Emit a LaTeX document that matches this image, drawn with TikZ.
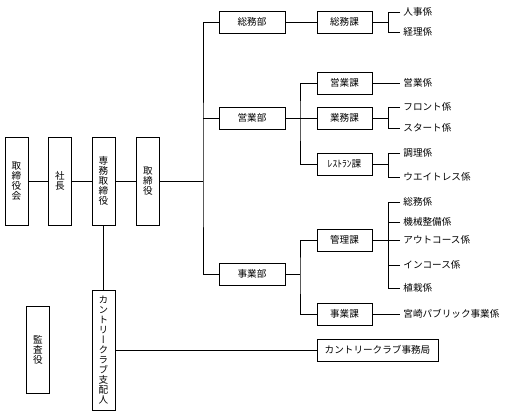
\documentclass[tikz,border=0pt]{standalone}
\usepackage{fontspec}
\setmainfont{Noto Sans CJK JP}
\newfontfamily\tate[RawFeature=+vert]{Noto Sans CJK JP}

\begin{document}
\begin{tikzpicture}[x=1pt,y=-1pt,line width=.8pt,
  box/.style={draw, minimum width=66pt, minimum height=22pt, inner sep=0pt,
    font=\fontsize{9.6}{10}\selectfont},
  kabox/.style={box, minimum width=55pt},
  tbox/.style={draw, minimum width=23pt, inner sep=0pt, align=center,
    font=\tate\fontsize{9.6}{10}\selectfont},
  leaf/.style={anchor=west, inner xsep=3pt, inner ysep=0pt,
    font=\fontsize{9.6}{10}\selectfont}]
\useasboundingbox (0,0) rectangle (511,416);

% board and officers
\node[tbox, minimum height=88pt] (torikai) at (16.5,181) {取\\締\\役\\会};
\node[tbox, minimum height=88pt] (shacho) at (60,181) {社\\長};
\node[tbox, minimum height=88pt] (senmu) at (103.5,181) {専\\務\\取\\締\\役};
\node[tbox, minimum height=88pt] (torishimari) at (148,181) {取\\締\\役};
\node[tbox, minimum height=120pt] (shihainin) at (103.5,350) {カ\\ン\\ト\\リ\\ー\\ク\\ラ\\ブ\\支\\配\\人};
\node[tbox, minimum height=87pt] (kansa) at (38,350) {監\\査\\役};

\draw (torikai) -- (shacho) -- (senmu) -- (torishimari);
\draw (senmu) -- (shihainin);

% departments
\node[box] (somubu) at (252,22) {総務部};
\node[box] (eigyobu) at (252,118) {営業部};
\node[box] (jigyobu) at (252,274) {事業部};
\node[box, minimum width=121pt] (jimukyoku) at (377.5,350) {カントリークラブ事務局};
\draw (shihainin) -- (jimukyoku);

\coordinate (trunk) at (203,181);
\draw (torishimari) -- (trunk);
\draw (somubu.west) -| (trunk) |- (jigyobu.west);
\draw (eigyobu.west) -- (eigyobu.west -| trunk);

% sections
\node[kabox] (somuka) at (344.5,22) {総務課};
\node[kabox] (eigyoka) at (344.5,83) {営業課};
\node[kabox] (gyomuka) at (344.5,118) {業務課};
\node[kabox] (resuka) at (344.5,164.5) {ﾚｽﾄﾗﾝ課};
\node[kabox] (kanrika) at (344.5,240) {管理課};
\node[kabox] (jigyoka) at (344.5,314) {事業課};

\draw (somubu) -- (somuka);
\draw (eigyobu) -- (gyomuka);
\coordinate (eigyoj) at (300,118);
\draw (eigyoka.west) -| (eigyoj) |- (resuka.west);
\coordinate (jigyoj) at (300,274);
\draw (jigyobu) -- (jigyoj);
\draw (kanrika.west) -| (jigyoj) |- (jigyoka.west);

% staff
\node[leaf] (jinji) at (400,12) {人事係};
\node[leaf] (keiri) at (400,32) {経理係};
\draw (somuka.east) -- ++(16,0) coordinate (somuj);
\draw (jinji.west) -| (somuj) |- (keiri.west);

\node[leaf] (eigyogakari) at (400,83) {営業係};
\draw (eigyoka) -- (eigyogakari);

\node[leaf] (front) at (400,107) {フロント係};
\node[leaf] (start) at (400,128) {スタート係};
\draw (gyomuka.east) -- ++(16,0) coordinate (gyomuj);
\draw (front.west) -| (gyomuj) |- (start.west);

\node[leaf] (chori) at (400,153) {調理係};
\node[leaf] (waitress) at (400,177) {ウエイトレス係};
\draw (resuka.east) -- ++(16,0) coordinate (resuj);
\draw (chori.west) -| (resuj) |- (waitress.west);

\foreach \y/\t [count=\i] in {202/総務係, 222/機械整備係, 240/アウトコース係,
    265/インコース係, 288/植栽係}
  \node[leaf] (kan\i) at (400,\y) {\t};
\draw (kanrika.east) -- ++(16,0) coordinate (kanj);
\draw (kan1.west) -| (kanj) |- (kan5.west);
\foreach \i in {2,3,4}
  \draw (kan\i.west) -- (kan\i.west -| kanj);

\node[leaf] (miyazaki) at (400,314) {宮崎パブリック事業係};
\draw (jigyoka) -- (miyazaki);

\end{tikzpicture}
\end{document}
